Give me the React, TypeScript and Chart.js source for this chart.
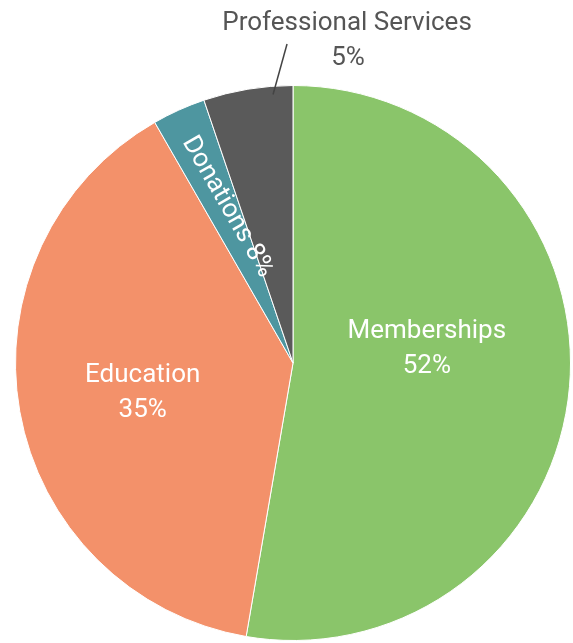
import React, { useEffect, useRef } from "react";
import { Chart, registerables } from "chart.js";

Chart.register(...registerables);

const categories = ["Memberships", "Education", "Donations", "Professional Services"];
const values = [52.7, 39.0, 3.1, 5.2];
const percentLabels = ["52%", "35%", "8%", "5%"];
const colors = ["#8ac56a", "#f3916a", "#4e96a0", "#5a5a5a"];

// label style: mode, anchor angle offset from slice middle (deg), radius fraction
const labelStyles = [
  { mode: "inside", angleOffset: -11.9, ratio: 0.486 },
  { mode: "inside", angleOffset: 0, ratio: 0.55 },
  { mode: "rotated", angleOffset: 1.5, ratio: 0.61, rotation: 60 },
  { mode: "outside", angleOffset: 0, ratio: 1.15 },
];

const FONT = "26px Roboto";

const labelPlugin = {
  id: "sliceLabels",
  afterDatasetsDraw(chart: any) {
    const ctx = chart.ctx;
    const meta = chart.getDatasetMeta(0);
    ctx.save();
    ctx.font = FONT;
    meta.data.forEach((arc: any, i: number) => {
      const st = labelStyles[i];
      const mid = (arc.startAngle + arc.endAngle) / 2 + (st.angleOffset * Math.PI) / 180;
      const R = arc.outerRadius;
      const cx = arc.x;
      const cy = arc.y;
      if (st.mode === "inside") {
        const px = cx + Math.cos(mid) * R * st.ratio;
        const py = cy + Math.sin(mid) * R * st.ratio;
        ctx.fillStyle = "#ffffff";
        ctx.textAlign = "center";
        ctx.textBaseline = "alphabetic";
        ctx.fillText(categories[i], px, py - 8);
        ctx.fillText(percentLabels[i], px, py + 27);
      } else if (st.mode === "rotated") {
        const px = cx + Math.cos(mid) * R * st.ratio;
        const py = cy + Math.sin(mid) * R * st.ratio;
        ctx.translate(px, py);
        ctx.rotate(((st.rotation || 0) * Math.PI) / 180);
        ctx.fillStyle = "#ffffff";
        ctx.textAlign = "center";
        ctx.textBaseline = "middle";
        ctx.fillText(categories[i] + " " + percentLabels[i], 0, 0);
        ctx.setTransform(1, 0, 0, 1, 0, 0);
      } else {
        // outside label with leader line
        const a1 = cx + Math.cos(-Math.PI / 2 - 0.0742) * R * 0.97;
        const b1 = cy + Math.sin(-Math.PI / 2 - 0.0742) * R * 0.97;
        const a2 = cx + Math.cos(-Math.PI / 2 - 0.0187) * R * st.ratio;
        const b2 = cy + Math.sin(-Math.PI / 2 - 0.0187) * R * st.ratio;
        ctx.strokeStyle = "#444444";
        ctx.lineWidth = 1.5;
        ctx.beginPath();
        ctx.moveTo(a1, b1);
        ctx.lineTo(a2, b2);
        ctx.stroke();
        ctx.fillStyle = "#555555";
        ctx.textAlign = "center";
        ctx.textBaseline = "alphabetic";
        ctx.fillText(categories[i], a2 + 60, b2 - 14);
        ctx.fillText(percentLabels[i], a2 + 61, b2 + 21);
      }
    });
    ctx.restore();
  },
};

export default function App() {
  const ref = useRef<HTMLCanvasElement>(null);
  useEffect(() => {
    if (!ref.current) return;
    const chart = new Chart(ref.current, {
      type: "pie",
      data: {
        labels: categories,
        datasets: [
          {
            data: values,
            backgroundColor: colors,
            borderColor: "#ffffff",
            borderWidth: 1,
            hoverOffset: 0,
            offset: 0,
          },
        ],
      },
      options: {
        responsive: true,
        maintainAspectRatio: false,
        animation: false,
        layout: { padding: { left: 15, right: 2, top: 85, bottom: 2 } },
        plugins: {
          legend: { display: false },
          tooltip: { enabled: false },
        },
      },
      plugins: [labelPlugin],
    });
    return () => chart.destroy();
  }, []);
  return (
    <div style={{ position: "fixed", left: 0, top: 0, width: 573, height: 643, background: "#fff" }}>
      <canvas ref={ref} />
    </div>
  );
}
